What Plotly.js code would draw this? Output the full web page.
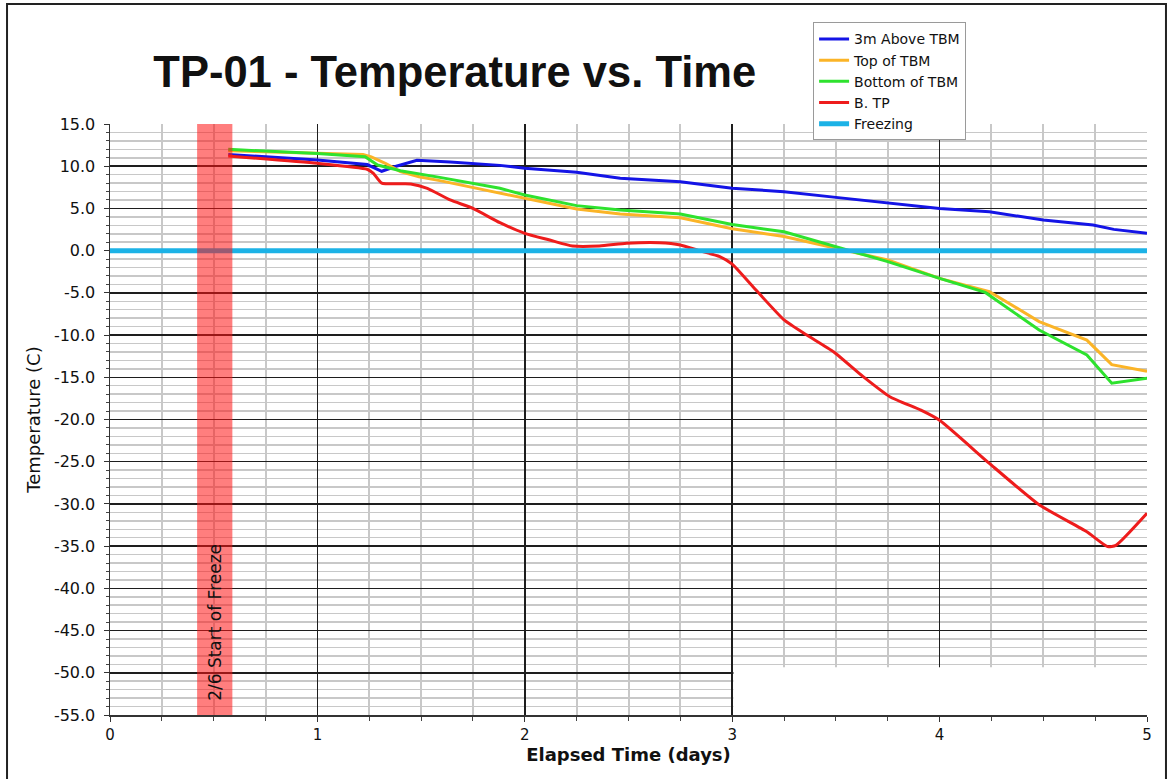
<!DOCTYPE html>
<html>
<head>
<meta charset="utf-8">
<script src="https://cdn.plot.ly/plotly-3.0.1.min.js"></script>
<style>
  html, body { margin: 0; padding: 0; background: #ffffff; }
  #chart { width: 1172px; height: 779px; }
</style>
</head>
<body>
<div id="chart"></div>
<script>
// ---- Data ----
const seriesNames = ["3m Above TBM", "Top of TBM", "Bottom of TBM", "B. TP", "Freezing"];

const aboveDays  = [0.57, 1.0, 1.24, 1.31, 1.38, 1.48, 1.64, 1.88, 2.0, 2.25, 2.46, 2.75, 3.0, 3.25, 3.5, 3.75, 4.0, 4.24, 4.5, 4.74, 4.84, 5.0];
const aboveTemps = [11.4, 10.74, 10.2, 9.4, 10.0, 10.7, 10.5, 10.1, 9.75, 9.28, 8.57, 8.17, 7.4, 6.98, 6.31, 5.68, 5.0, 4.6, 3.63, 3.04, 2.52, 2.05];

const topDays  = [0.57, 1.0, 1.22, 1.26, 1.33, 1.40, 1.49, 1.59, 1.88, 2.0, 2.25, 2.46, 2.75, 3.0, 3.25, 3.5, 3.75, 4.0, 4.24, 4.48, 4.71, 4.83, 5.0];
const topTemps = [11.84, 11.53, 11.4, 11.1, 10.3, 9.36, 8.76, 8.29, 6.79, 6.2, 4.93, 4.34, 3.9, 2.6, 1.67, 0.28, -1.1, -3.28, -4.85, -8.4, -10.6, -13.5, -14.3];

const bottomDays  = [0.57, 1.0, 1.23, 1.29, 1.40, 1.59, 1.88, 2.0, 2.25, 2.46, 2.75, 3.0, 3.25, 3.5, 3.75, 4.0, 4.22, 4.48, 4.71, 4.83, 5.0];
const bottomTemps = [12.0, 11.5, 11.13, 10.14, 9.47, 8.68, 7.38, 6.59, 5.33, 4.81, 4.34, 3.1, 2.24, 0.47, -1.3, -3.28, -4.95, -9.4, -12.36, -15.7, -15.1];

const tpDays  = [0.57, 1.0, 1.24, 1.27, 1.31, 1.45, 1.53, 1.64, 1.75, 1.88, 2.0, 2.12, 2.23, 2.36, 2.49, 2.65, 2.75, 2.84, 2.94, 3.0, 3.10, 3.25, 3.36, 3.49, 3.63, 3.76, 3.91, 4.0, 4.24, 4.48, 4.71, 4.81, 4.85, 5.0];
const tpTemps = [11.2, 10.34, 9.64, 9.16, 8.0, 7.9, 7.38, 6.0, 5.0, 3.31, 2.05, 1.26, 0.55, 0.55, 0.87, 0.94, 0.67, 0.0, -0.7, -1.6, -4.27, -8.2, -10.0, -12.0, -14.9, -17.3, -18.9, -20.1, -25.2, -30.1, -33.3, -35.06, -34.9, -31.1];

const freezeDays  = [0, 5];
const freezeTemps = [0, 0];

const freezeStart = [0.42, 0.59];    // shaded "2/6 Start of Freeze" band (days)
const bandLabel = "2/6 Start of Freeze";
const blankBoxDays = [3.006, 5.02];
const blankBoxTemps = [-55, -49.35];

const yTickVals = [15, 10, 5, 0, -5, -10, -15, -20, -25, -30, -35, -40, -45, -50, -55];
const yTickText = ["15.0", "10.0", "5.0", "0.0", "-5.0", "-10.0", "-15.0", "-20.0", "-25.0", "-30.0", "-35.0", "-40.0", "-45.0", "-50.0", "-55.0"];

const FONT = "DejaVu Sans, Liberation Sans, Arial, sans-serif";
const TITLE_FONT = "Liberation Sans, Arial, sans-serif";

const traces = [
  {x: aboveDays,  y: aboveTemps,  name: seriesNames[0], mode: "lines", line: {color: "#1414e6", width: 3}},
  {x: topDays,    y: topTemps,    name: seriesNames[1], mode: "lines", line: {color: "#fbb427", width: 3}},
  {x: bottomDays, y: bottomTemps, name: seriesNames[2], mode: "lines", line: {color: "#2ee22e", width: 3}},
  {x: tpDays,     y: tpTemps,     name: seriesNames[3], mode: "lines", line: {color: "#ee1c1c", width: 3, shape: "spline", smoothing: 0.5}},
  {x: freezeDays, y: freezeTemps, name: seriesNames[4], mode: "lines", line: {color: "#1cb2e6", width: 5}}
];

const layout = {
  width: 1172, height: 779,
  margin: {l: 110, r: 25, t: 124, b: 64},
  paper_bgcolor: "#ffffff", plot_bgcolor: "#ffffff",
  font: {family: FONT, color: "#111"},
  title: {
    text: "<b>TP-01 - Temperature vs. Time</b>",
    font: {family: TITLE_FONT, size: 43.5, color: "#111"},
    x: 0.388, xanchor: "center", y: 0.908, yanchor: "middle"
  },
  showlegend: true,
  legend: {
    x: 0.678, xanchor: "left", y: 1.172, yanchor: "top",
    bgcolor: "#ffffff", bordercolor: "#9a9a9a", borderwidth: 1,
    font: {family: FONT, size: 14, color: "#111"},
    tracegroupgap: 0, itemwidth: 30
  },
  xaxis: {
    range: [0, 5], tickmode: "linear", tick0: 0, dtick: 1, tickformat: "d",
    showgrid: true, gridcolor: "#1e1e1e", gridwidth: 1.5,
    minor: {tickmode: "linear", tick0: 0, dtick: 0.25, showgrid: true, gridcolor: "#c8c8c8", gridwidth: 2, ticks: "outside", ticklen: 4, tickcolor: "#444"},
    ticks: "outside", ticklen: 5, tickcolor: "#333",
    showline: true, linecolor: "#333", linewidth: 1.5, zeroline: false,
    tickfont: {family: FONT, size: 15, color: "#111"},
    title: {text: "<b>Elapsed Time (days)</b>", font: {family: FONT, size: 18, color: "#111"}, standoff: 6}
  },
  yaxis: {
    range: [-55, 15], tickmode: "array", tickvals: yTickVals, ticktext: yTickText,
    showgrid: true, gridcolor: "#1e1e1e", gridwidth: 1.5,
    minor: {tickmode: "linear", tick0: 0, dtick: 1, showgrid: true, gridcolor: "#c8c8c8", gridwidth: 1.5, ticks: "outside", ticklen: 3, tickcolor: "#444"},
    ticks: "outside", ticklen: 5, tickcolor: "#333", ticklabelstandoff: 5,
    showline: true, linecolor: "#333", linewidth: 1.5, zeroline: false,
    tickfont: {family: FONT, size: 16, color: "#111"},
    title: {text: "Temperature (C)", font: {family: FONT, size: 18, color: "#111"}, standoff: 8}
  },
  shapes: [
    {type: "rect", xref: "x", yref: "y", x0: blankBoxDays[0], x1: blankBoxDays[1], y0: blankBoxTemps[0], y1: blankBoxTemps[1],
     fillcolor: "#ffffff", line: {width: 0}, layer: "between"},
    {type: "rect", xref: "x", yref: "paper", x0: freezeStart[0], x1: freezeStart[1], y0: 0, y1: 1,
     fillcolor: "rgba(255,20,20,0.55)", line: {width: 0}, layer: "above"},
    {type: "rect", xref: "paper", yref: "paper", x0: -0.0993, x1: 1.0183, y0: -0.12, y1: 1.203,
     fillcolor: "rgba(0,0,0,0)", line: {color: "#222", width: 2}, layer: "below"}
  ],
  annotations: [
    {x: (freezeStart[0] + freezeStart[1]) / 2, y: -44, xref: "x", yref: "y", text: bandLabel, textangle: -90,
     showarrow: false, font: {family: FONT, size: 17, color: "#111"}}
  ]
};

Plotly.newPlot("chart", traces, layout, {displayModeBar: false, staticPlot: true});
</script>
</body>
</html>
